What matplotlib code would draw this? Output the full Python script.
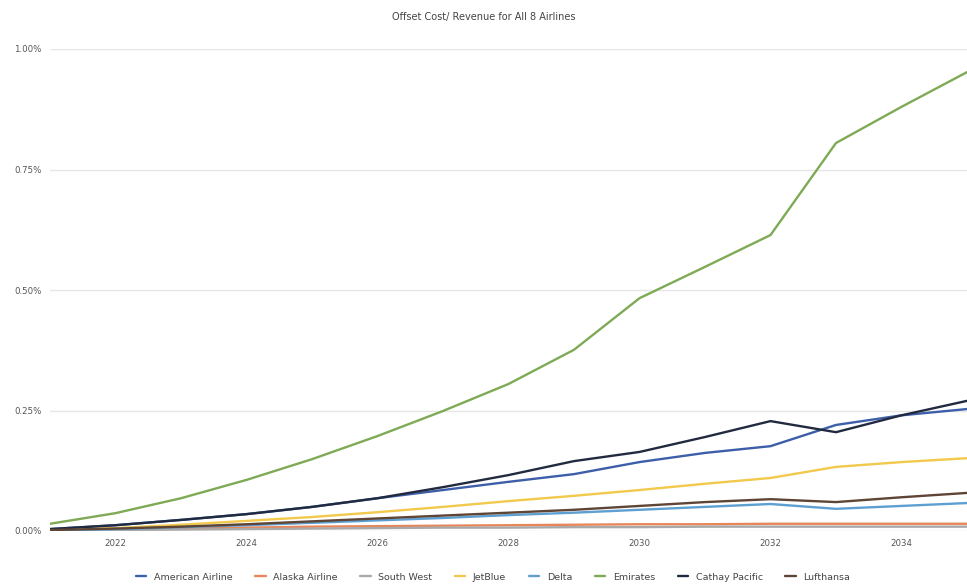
import matplotlib
matplotlib.use("Agg")
import matplotlib.pyplot as plt
from matplotlib.ticker import FuncFormatter

years = list(range(2021, 2036))

american = [0.004, 0.012, 0.023, 0.035, 0.050, 0.068, 0.085, 0.102, 0.118, 0.143, 0.162, 0.176, 0.220, 0.240, 0.253]
alaska = [0.001, 0.003, 0.005, 0.007, 0.009, 0.010, 0.011, 0.012, 0.013, 0.014, 0.014, 0.015, 0.015, 0.015, 0.015]
south_west = [0.001, 0.002, 0.003, 0.004, 0.005, 0.006, 0.007, 0.007, 0.008, 0.008, 0.009, 0.009, 0.009, 0.009, 0.009]
jetblue = [0.002, 0.006, 0.013, 0.021, 0.029, 0.039, 0.050, 0.062, 0.073, 0.085, 0.098, 0.110, 0.133, 0.143, 0.151]
delta = [0.001, 0.004, 0.008, 0.012, 0.017, 0.022, 0.027, 0.033, 0.038, 0.044, 0.050, 0.056, 0.046, 0.052, 0.058]
emirates = [0.015, 0.037, 0.068, 0.106, 0.149, 0.197, 0.249, 0.305, 0.376, 0.483, 0.548, 0.614, 0.805, 0.880, 0.952]
cathay = [0.004, 0.012, 0.023, 0.035, 0.050, 0.068, 0.091, 0.116, 0.145, 0.164, 0.195, 0.228, 0.205, 0.240, 0.270]
lufthansa = [0.002, 0.005, 0.009, 0.014, 0.020, 0.026, 0.032, 0.038, 0.044, 0.052, 0.060, 0.066, 0.060, 0.070, 0.079]

series = [
    ("American Airline", american, "#3d5ea8"),
    ("Alaska Airline", alaska, "#e8865a"),
    ("South West", south_west, "#a9a9a9"),
    ("JetBlue", jetblue, "#f2c94c"),
    ("Delta", delta, "#5d9fd0"),
    ("Emirates", emirates, "#7faa55"),
    ("Cathay Pacific", cathay, "#222a40"),
    ("Lufthansa", lufthansa, "#5e4535"),
]

fig = plt.figure(figsize=(9.67, 5.86), dpi=100)
ax = fig.add_axes([50 / 967, 55 / 586, 917 / 967, 482 / 586])

for name, vals, col in series:
    ax.plot(years, vals, color=col, linewidth=1.7, label=name, solid_capstyle="round")

ax.set_xlim(2021, 2035)
ax.set_ylim(0, 1.0)
ax.set_xticks(range(2022, 2035, 2))
ax.set_yticks([0, 0.25, 0.5, 0.75, 1.0])
ax.yaxis.set_major_formatter(FuncFormatter(lambda v, p: f"{v:.2f}%"))
ax.tick_params(axis="both", length=0, labelsize=6.2, colors="#555555", pad=6)
ax.grid(axis="y", color="#e6e6e6", linewidth=1)
ax.set_axisbelow(True)
for s in ax.spines.values():
    s.set_visible(False)

fig.text(0.5, 1 - 17 / 586, "Offset Cost/ Revenue for All 8 Airlines", ha="center", va="center",
         fontsize=7, color="#444444")

fig.legend(loc="center", bbox_to_anchor=(0.51, 1 - 577 / 586), ncol=8, frameon=False,
           fontsize=6.8, handlelength=1.1, columnspacing=2.4, handletextpad=0.8,
           labelcolor="#444444")

fig.savefig("out.png", dpi=100)
